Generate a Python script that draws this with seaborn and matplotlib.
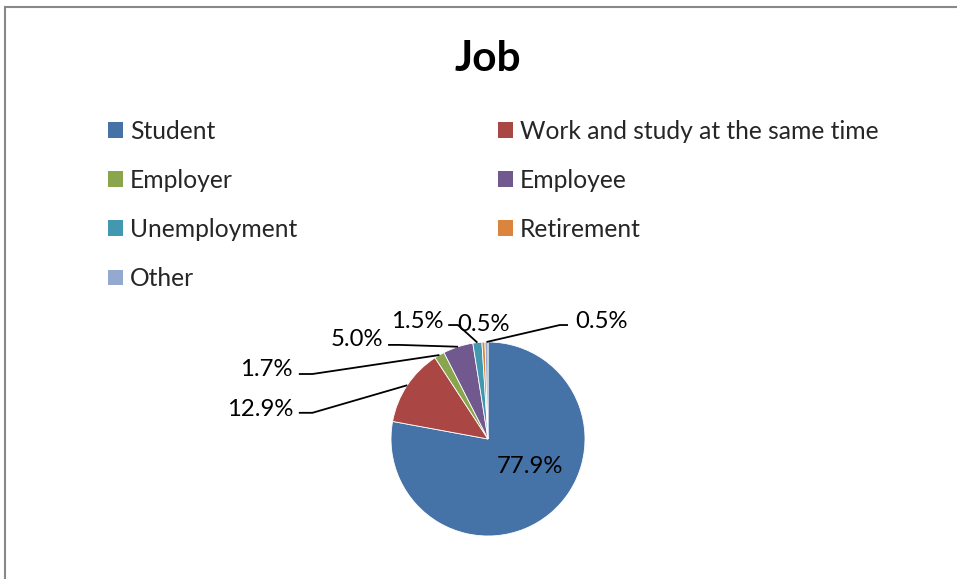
import matplotlib
matplotlib.use("Agg")
import matplotlib.pyplot as plt
from matplotlib.patches import Patch, Rectangle
import seaborn as sns
import numpy as np

# ---- data ----
categories = ["Student", "Work and study at the same time", "Employer", "Employee",
              "Unemployment", "Retirement", "Other"]
values = [77.9, 12.9, 1.7, 5.0, 1.5, 0.5, 0.5]
label_texts = ["77.9%", "12.9%", "1.7%", "5.0%", "1.5%", "0.5%", "0.5%"]
colors = ["#4572A7", "#AA4643", "#89A54E", "#71588F", "#4198AF", "#DB843D", "#93A9CF"]

sns.set_theme(style="white")
plt.rcParams['font.family'] = ['Lato', 'DejaVu Sans']

W, H = 957, 579
fig = plt.figure(figsize=(W / 100, H / 100), dpi=100)
fig.patch.set_facecolor("white")

# chart frame
fig.patches.append(Rectangle((5 / W, -0.05), 1.2, 1 - 7 / H + 0.05, transform=fig.transFigure,
                             fill=False, edgecolor="#888888", linewidth=1.5, zorder=0))

# pie axes: center at (488, 439) px, radius 97 px
cx, cy, r = 488, 439, 97
hw, hh = 300, 135
ax = fig.add_axes([(cx - hw) / W, 1 - (cy + hh) / H, 2 * hw / W, 2 * hh / H])
wedges, _ = ax.pie(values, colors=colors, startangle=90, counterclock=False,
                   wedgeprops=dict(edgecolor="white", linewidth=0.6))
ax.set_xlim(-hw / r, hw / r)
ax.set_ylim(-hh / r, hh / r)
ax.set_aspect("auto")
ax.axis("off")

# label layout (data units, radius = 1)
label_pos = [(0.433, -0.285), (-2.01, 0.30), (-2.01, 0.72), (-1.08, 1.03),
             (-0.46, 1.21), (-0.05, 1.18), (0.895, 1.21)]
label_ha = ["center", "right", "right", "right", "right", "center", "left"]
line_start = [None, (-1.95, 0.27), (-1.95, 0.67), (-1.03, 0.97),
              (-0.41, 1.175), None, (0.825, 1.175)]
line_elbow = [None, (-1.81, 0.27), (-1.81, 0.67), (-0.91, 0.97),
              (-0.31, 1.175), None, (0.74, 1.175)]

for i, w in enumerate(wedges):
    mid = np.deg2rad((w.theta1 + w.theta2) / 2)
    ex, ey = np.cos(mid), np.sin(mid)
    if line_start[i] is not None:
        xs = [line_start[i][0], line_elbow[i][0], ex]
        ys = [line_start[i][1], line_elbow[i][1], ey]
        ax.plot(xs, ys, color="black", linewidth=1.3, solid_capstyle="butt")
    ax.text(label_pos[i][0], label_pos[i][1], label_texts[i], ha=label_ha[i],
            va="center", fontsize=17.2, color="black")

# title
fig.text(cx / W, 1 - 59 / H, "Job", ha="center", va="center", fontsize=30.5,
         fontweight="bold", color="black")

# legend (two columns, row-major order like the original)
handles = [Patch(facecolor=c, edgecolor="none") for c in colors]
col1 = [0, 2, 4, 6]
col2 = [1, 3, 5]
leg_kw = dict(frameon=False, fontsize=17.7, handlelength=0.62, handleheight=0.62,
              handletextpad=0.28, labelspacing=1.06, borderpad=0, borderaxespad=0)
leg1 = fig.legend([handles[i] for i in col1], [categories[i] for i in col1],
                  loc="upper left", bbox_to_anchor=(108 / W, 1 - 120 / H), **leg_kw)
leg2 = fig.legend([handles[i] for i in col2], [categories[i] for i in col2],
                  loc="upper left", bbox_to_anchor=(498 / W, 1 - 120 / H), **leg_kw)

fig.savefig("out.png", dpi=100, facecolor="white")
